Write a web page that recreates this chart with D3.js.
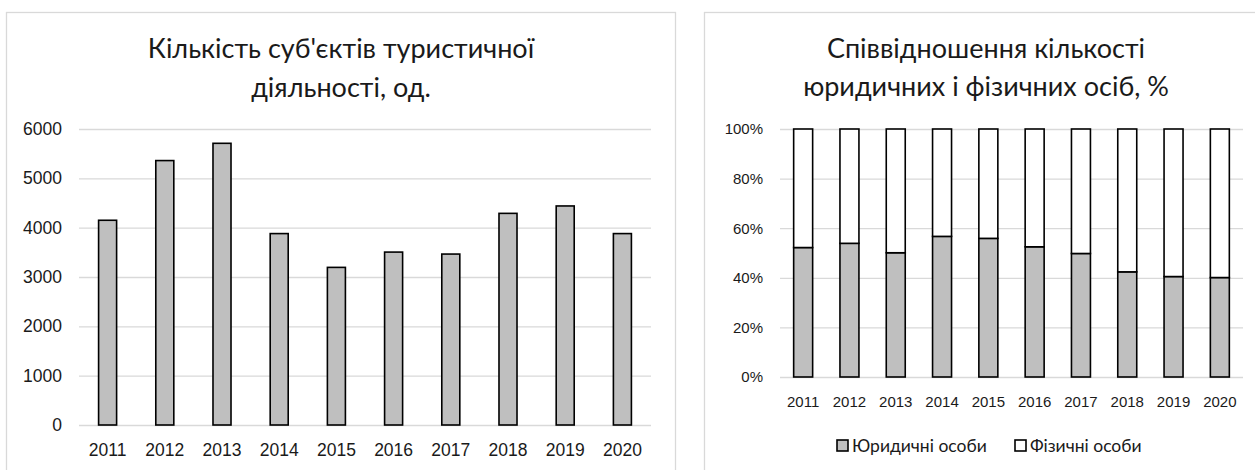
<!DOCTYPE html>
<html>
<head>
<meta charset="utf-8">
<script src="https://cdn.jsdelivr.net/npm/d3@7"></script>
<style>
  body { margin: 0; background: #fff; }
  svg { display: block; font-family: Lato, 'Open Sans', sans-serif; }
  .title { font-size: 27px; fill: #1a1a1a; text-anchor: middle; }
  .tick text { fill: #1a1a1a; }
  .tick line { stroke: #d9d9d9; stroke-width: 1.3; }
  .panel { fill: none; stroke: #d9d9d9; stroke-width: 1.3; }
  .bar { fill: #bfbfbf; stroke: #000; stroke-width: 1.6; }
  .legend text { font-size: 17.5px; fill: #1a1a1a; }
</style>
</head>
<body>
<svg width="1255" height="470"></svg>
<script>
const years = ['2011', '2012', '2013', '2014', '2015', '2016', '2017', '2018', '2019', '2020'];
const subjects = [4150, 5360, 5710, 3880, 3195, 3505, 3465, 4290, 4440, 3880];
const legalShare = [52.2, 53.9, 50.1, 56.7, 55.9, 52.5, 49.8, 42.4, 40.5, 40.1];
const physicalShare = [47.8, 46.1, 49.9, 43.3, 44.1, 47.5, 50.2, 57.6, 59.5, 59.9];
const seriesNames = ['Юридичні особи', 'Фізичні особи'];
const yTicksLeft = [0, 1000, 2000, 3000, 4000, 5000, 6000];
const yTicksRight = [0, 0.2, 0.4, 0.6, 0.8, 1];

const svg = d3.select('svg');

// panel frames (they run off the bottom / right edge of the picture)
svg.append('rect').attr('class', 'panel')
    .attr('x', 6.5).attr('y', 12.5).attr('width', 669).attr('height', 480);
svg.append('rect').attr('class', 'panel')
    .attr('x', 704.5).attr('y', 12.5).attr('width', 560).attr('height', 480);

// ---------- left chart ----------
const left = { x0: 79, x1: 651, top: 129, bottom: 425 };

const xL = d3.scaleBand()
    .domain(years)
    .range([left.x0, left.x1])
    .paddingInner(0.685)
    .paddingOuter(0.685 / 2);

const yL = d3.scaleLinear()
    .domain([0, 6000])
    .range([left.bottom, left.top]);

const yAxisL = svg.append('g')
    .attr('transform', `translate(${left.x0},0)`)
    .call(d3.axisLeft(yL).tickValues(yTicksLeft).tickFormat(d3.format('d'))
        .tickSize(-(left.x1 - left.x0)).tickPadding(17));
yAxisL.select('.domain').remove();
yAxisL.selectAll('.tick text').style('font-size', '17.5px');

const xAxisL = svg.append('g')
    .attr('transform', `translate(0,${left.bottom})`)
    .call(d3.axisBottom(xL).tickSize(0).tickPadding(19));
xAxisL.select('.domain').remove();
xAxisL.selectAll('.tick text').style('font-size', '17.5px');

svg.append('g').selectAll('rect')
    .data(subjects)
    .join('rect')
    .attr('class', 'bar')
    .attr('x', (d, i) => xL(years[i]))
    .attr('width', xL.bandwidth())
    .attr('y', d => yL(d))
    .attr('height', d => yL(0) - yL(d));

const titleL = svg.append('text').attr('class', 'title');
titleL.append('tspan').attr('x', 341).attr('y', 58).text("Кількість суб'єктів туристичної");
titleL.append('tspan').attr('x', 341).attr('y', 97).text('діяльності, од.');

// ---------- right chart ----------
const right = { x0: 780, x1: 1243, top: 129, bottom: 377 };

const rows = years.map((y, i) => ({ year: y, legal: legalShare[i], physical: physicalShare[i] }));
const stacked = d3.stack()
    .keys(['legal', 'physical'])
    .offset(d3.stackOffsetExpand)(rows);

const xR = d3.scaleBand()
    .domain(years)
    .range([right.x0, right.x1])
    .paddingInner(0.59)
    .paddingOuter(0.59 / 2);

const yR = d3.scaleLinear()
    .domain([0, 1])
    .range([right.bottom, right.top]);

const yAxisR = svg.append('g')
    .attr('transform', `translate(${right.x0},0)`)
    .call(d3.axisLeft(yR).tickValues(yTicksRight).tickFormat(d3.format('.0%'))
        .tickSize(-(right.x1 - right.x0)).tickPadding(17));
yAxisR.select('.domain').remove();
yAxisR.selectAll('.tick text').style('font-size', '15px');

const xAxisR = svg.append('g')
    .attr('transform', `translate(0,${right.bottom})`)
    .call(d3.axisBottom(xR).tickSize(0).tickPadding(19));
xAxisR.select('.domain').remove();
xAxisR.selectAll('.tick text').style('font-size', '15px');

const fills = ['#bfbfbf', '#ffffff'];
svg.append('g').selectAll('g')
    .data(stacked)
    .join('g')
    .attr('fill', (d, i) => fills[i])
    .selectAll('rect')
    .data(d => d)
    .join('rect')
    .attr('stroke', '#000')
    .attr('stroke-width', 1.6)
    .attr('x', d => xR(d.data.year))
    .attr('width', xR.bandwidth())
    .attr('y', d => yR(d[1]))
    .attr('height', d => yR(d[0]) - yR(d[1]));

const titleR = svg.append('text').attr('class', 'title');
titleR.append('tspan').attr('x', 986).attr('y', 58).text('Співвідношення кількості');
titleR.append('tspan').attr('x', 986).attr('y', 96).text('юридичних і фізичних осіб, %');

// legend
const legendX = [837, 1015];
const legend = svg.append('g').attr('class', 'legend')
    .selectAll('g')
    .data(seriesNames)
    .join('g')
    .attr('transform', (d, i) => `translate(${legendX[i]},440)`);
legend.append('rect')
    .attr('width', 11).attr('height', 11)
    .attr('fill', (d, i) => fills[i])
    .attr('stroke', '#000').attr('stroke-width', 1.6);
legend.append('text')
    .attr('x', 15).attr('y', 5.5).attr('dy', '0.35em')
    .text(d => d);
</script>
</body>
</html>
